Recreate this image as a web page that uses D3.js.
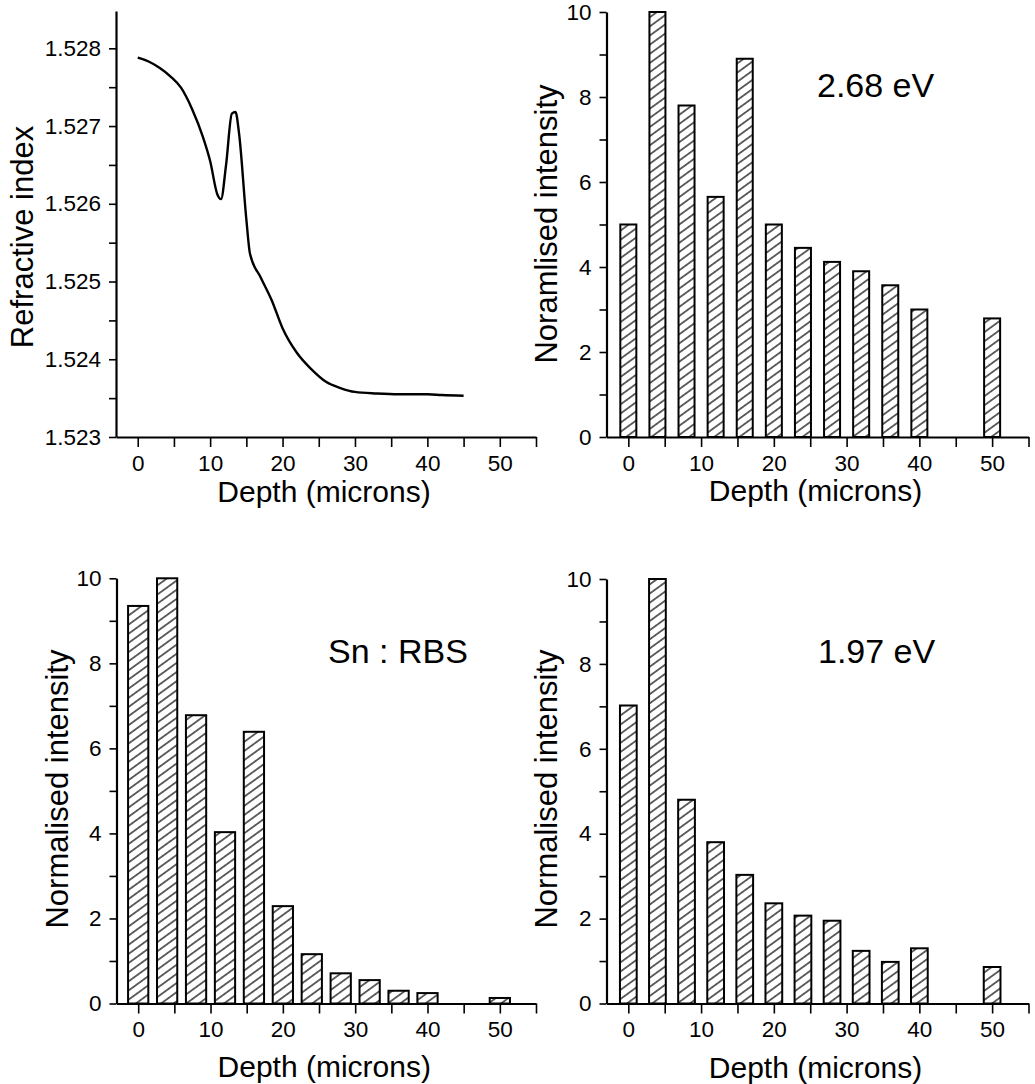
<!DOCTYPE html>
<html>
<head>
<meta charset="utf-8">
<script src="https://cdn.jsdelivr.net/npm/d3@7"></script>
<style>
  body { margin: 0; background: #fff; }
  svg { display: block; font-family: "Liberation Sans", Arial, sans-serif; }
</style>
</head>
<body>
<svg id="chart" width="1035" height="1084"></svg>
<script>
// refractive index profile (top left)
const profileDepth = [0, 1.5, 3, 4.5, 6, 7.5, 9, 10, 11, 11.5, 12.2, 13, 13.5, 14, 15, 15.5, 17, 18.5, 20, 22, 24, 26, 28, 30, 33, 36, 40, 42, 45];
const profileIndex = [1.52788, 1.52783, 1.52775, 1.52764, 1.52749, 1.52722, 1.52686, 1.52655, 1.52612, 1.52606, 1.5265, 1.52716, 1.52718, 1.5269, 1.5258, 1.52536, 1.52505, 1.52476, 1.5244, 1.52408, 1.52387, 1.52371, 1.52363, 1.52358, 1.52356, 1.52355, 1.52355, 1.52354, 1.52353];

// bar charts, depth in microns
const barDepths = [0, 4, 8, 12, 16, 20, 24, 28, 32, 36, 40, 50];
const band268 = [5.0, 10, 7.8, 5.65, 8.9, 5.0, 4.45, 4.12, 3.9, 3.57, 3.0, 2.79];
const snRbs = [9.35, 10, 6.78, 4.03, 6.39, 2.29, 1.16, 0.71, 0.55, 0.3, 0.245, 0.13];
const band197 = [7.02, 10, 4.8, 3.8, 3.03, 2.36, 2.07, 1.95, 1.24, 0.98, 1.3, 0.86];

// ticks
const depthTicks = d3.range(0, 56, 5);
const intensityTicks = d3.range(0, 11, 1);
const indexTicks = d3.range(0, 11, 1).map(i => 1.523 + i * 0.0005);

const svg = d3.select('#chart');

// hatch fill
const pat = svg.append('defs').append('pattern')
    .attr('id', 'hatch')
    .attr('patternUnits', 'userSpaceOnUse')
    .attr('width', 10)
    .attr('height', 7.4)
    .attr('patternTransform', 'rotate(-36)');
pat.append('rect').attr('width', 10).attr('height', 7.4).attr('fill', '#fff');
pat.append('line')
    .attr('x1', 0).attr('x2', 10)
    .attr('y1', 3.7).attr('y2', 3.7)
    .attr('stroke', '#000')
    .attr('stroke-width', 1.2);

function panel(p) {
    const g = svg.append('g');

    const x = d3.scaleLinear().domain([-3, 55]).range([p.left, p.right]);
    const y = d3.scaleLinear().domain(p.yDomain).range([p.bottom, p.top]);

    const xAxis = g.append('g')
        .attr('transform', `translate(0,${p.bottom})`)
        .call(d3.axisBottom(x)
            .tickValues(depthTicks)
            .tickFormat(d => (d % 10 === 0 ? d : ''))
            .tickSize(10)
            .tickSizeOuter(0)
            .tickPadding(8));

    const yAxis = g.append('g')
        .attr('transform', `translate(${p.left},0)`)
        .call(d3.axisLeft(y)
            .tickValues(p.yTicks)
            .tickFormat(p.yFormat)
            .tickSize(7)
            .tickSizeOuter(0)
            .tickPadding(8));

    [xAxis, yAxis].forEach(a => {
        a.select('.domain').attr('stroke', '#000').attr('stroke-width', 2.2);
        a.selectAll('.tick line').attr('stroke', '#000').attr('stroke-width', 1.6);
        a.selectAll('.tick text')
            .attr('fill', '#000')
            .style('font-size', '22.5px')
            .style('font-family', '"Liberation Sans", Arial, sans-serif');
    });

    if (p.values) {
        g.append('g').selectAll('rect')
            .data(p.values)
            .join('rect')
            .attr('x', (d, i) => x(barDepths[i] - p.barWidth / 2))
            .attr('width', x(p.barWidth) - x(0))
            .attr('y', d => y(d))
            .attr('height', d => y(0) - y(d))
            .attr('fill', 'url(#hatch)')
            .attr('stroke', '#000')
            .attr('stroke-width', 2);
    }

    if (p.line) {
        const line = d3.line()
            .x(d => x(d[0]))
            .y(d => y(d[1]))
            .curve(d3.curveMonotoneX);
        g.append('path')
            .datum(p.line)
            .attr('d', line)
            .attr('fill', 'none')
            .attr('stroke', '#000')
            .attr('stroke-width', 2.4);
    }

    // axis titles
    g.append('text')
        .attr('x', (p.left + p.right) / 2 - 2)
        .attr('y', p.xTitleY)
        .attr('text-anchor', 'middle')
        .style('font-size', '30px')
        .text('Depth (microns)');

    g.append('text')
        .attr('transform', `translate(${p.yTitleX},${p.yTitleMid}) rotate(-90)`)
        .attr('text-anchor', 'middle')
        .style('font-size', '31px')
        .text(p.yTitle);

    if (p.note) {
        g.append('text')
            .attr('x', p.note.x)
            .attr('y', p.note.y)
            .style('font-size', '34px')
            .text(p.note.text);
    }
}

const fmtIndex = d => {
    const k = Math.round((d - 1.523) / 0.0005);
    return k % 2 === 0 ? d3.format('.3f')(d) : '';
};
const fmtIntensity = d => (d % 2 === 0 ? d : '');

panel({
    left: 116, right: 536, top: 11, bottom: 437,
    yDomain: [1.523, 1.52848],
    yTicks: indexTicks,
    yFormat: fmtIndex,
    line: profileDepth.map((d, i) => [d, profileIndex[i]]),
    xTitleY: 502,
    yTitleX: 33, yTitleMid: 237,
    yTitle: 'Refractive index'
});

panel({
    left: 606.5, right: 1028.5, top: 12, bottom: 437,
    yDomain: [0, 10],
    yTicks: intensityTicks,
    yFormat: fmtIntensity,
    values: band268,
    barWidth: 2.2,
    xTitleY: 501,
    yTitleX: 557, yTitleMid: 224,
    yTitle: 'Noramlised intensity',
    note: { x: 817, y: 97, text: '2.68 eV' }
});

panel({
    left: 116.5, right: 536, top: 578.3, bottom: 1003.5,
    yDomain: [0, 10],
    yTicks: intensityTicks,
    yFormat: fmtIntensity,
    values: snRbs,
    barWidth: 2.8,
    xTitleY: 1077,
    yTitleX: 68, yTitleMid: 789,
    yTitle: 'Normalised intensity',
    note: { x: 328, y: 663, text: 'Sn : RBS' }
});

panel({
    left: 606.5, right: 1028.5, top: 579, bottom: 1003.5,
    yDomain: [0, 10],
    yTicks: intensityTicks,
    yFormat: fmtIntensity,
    values: band197,
    barWidth: 2.3,
    xTitleY: 1078,
    yTitleX: 557, yTitleMid: 789,
    yTitle: 'Normalised intensity',
    note: { x: 818, y: 663, text: '1.97 eV' }
});
</script>
</body>
</html>
